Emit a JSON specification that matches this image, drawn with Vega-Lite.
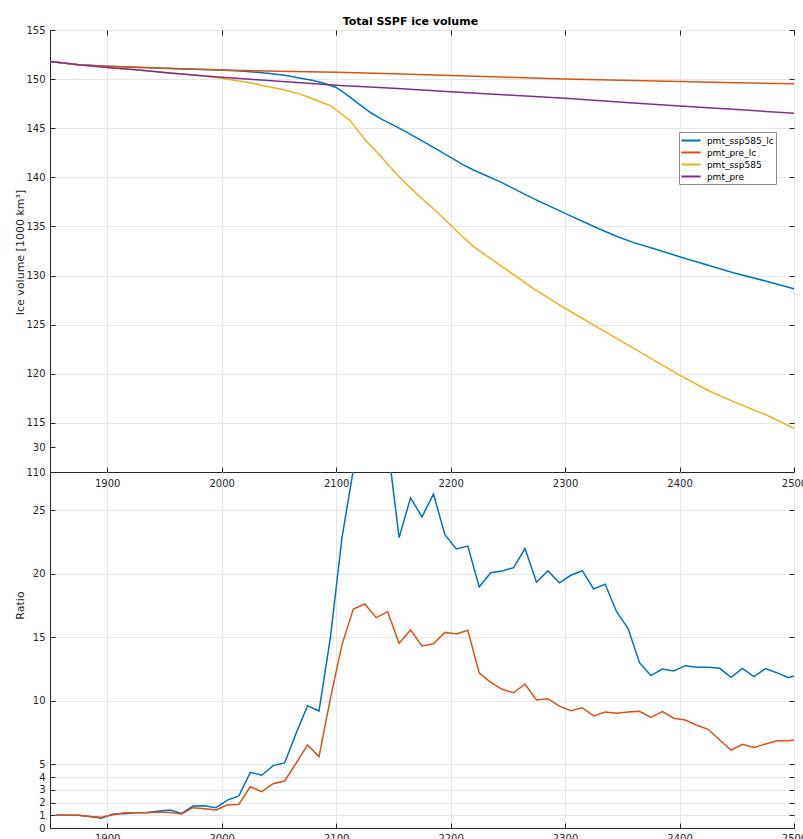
{
  "$schema": "https://vega.github.io/schema/vega-lite/v6.json",
  "autosize": {"type": "pad"},
  "padding": {"left": 13, "top": 15, "right": 0, "bottom": 0},
  "background": "white",
  "config": {
    "font": "DejaVu Sans",
    "view": {"stroke": "#262626", "strokeWidth": 1},
    "axis": {
      "domainColor": "#262626",
      "tickColor": "#262626",
      "labelColor": "#262626",
      "titleColor": "#262626",
      "gridColor": "#e6e6e6",
      "labelFontSize": 10,
      "titleFontSize": 11,
      "titleFontWeight": "normal",
      "tickSize": -5,
      "labelPadding": 10
    }
  },
  "title": {"text": "Total SSPF ice volume", "anchor": "middle", "fontSize": 11, "fontWeight": "bold", "color": "#000000", "offset": -2},
  "bounds": "flush",
  "spacing": 0,
  "resolve": {"scale": {"color": "independent"}, "legend": {"color": "independent"}},
  "datasets": {
    "volume": [
      {"year": 1850, "volume": 151.8, "series": "pmt_ssp585_lc"},
      {"year": 1875, "volume": 151.45, "series": "pmt_ssp585_lc"},
      {"year": 1900, "volume": 151.3, "series": "pmt_ssp585_lc"},
      {"year": 1925, "volume": 151.2, "series": "pmt_ssp585_lc"},
      {"year": 1950, "volume": 151.1, "series": "pmt_ssp585_lc"},
      {"year": 1975, "volume": 151.0, "series": "pmt_ssp585_lc"},
      {"year": 2000, "volume": 150.92, "series": "pmt_ssp585_lc"},
      {"year": 2020, "volume": 150.8, "series": "pmt_ssp585_lc"},
      {"year": 2040, "volume": 150.6, "series": "pmt_ssp585_lc"},
      {"year": 2055, "volume": 150.4, "series": "pmt_ssp585_lc"},
      {"year": 2068, "volume": 150.12, "series": "pmt_ssp585_lc"},
      {"year": 2080, "volume": 149.85, "series": "pmt_ssp585_lc"},
      {"year": 2090, "volume": 149.55, "series": "pmt_ssp585_lc"},
      {"year": 2100, "volume": 149.15, "series": "pmt_ssp585_lc"},
      {"year": 2110, "volume": 148.35, "series": "pmt_ssp585_lc"},
      {"year": 2120, "volume": 147.45, "series": "pmt_ssp585_lc"},
      {"year": 2130, "volume": 146.6, "series": "pmt_ssp585_lc"},
      {"year": 2140, "volume": 145.9, "series": "pmt_ssp585_lc"},
      {"year": 2147, "volume": 145.5, "series": "pmt_ssp585_lc"},
      {"year": 2160, "volume": 144.7, "series": "pmt_ssp585_lc"},
      {"year": 2170, "volume": 144.05, "series": "pmt_ssp585_lc"},
      {"year": 2185, "volume": 143.05, "series": "pmt_ssp585_lc"},
      {"year": 2200, "volume": 142.04, "series": "pmt_ssp585_lc"},
      {"year": 2210, "volume": 141.35, "series": "pmt_ssp585_lc"},
      {"year": 2220, "volume": 140.75, "series": "pmt_ssp585_lc"},
      {"year": 2243, "volume": 139.56, "series": "pmt_ssp585_lc"},
      {"year": 2272, "volume": 137.86, "series": "pmt_ssp585_lc"},
      {"year": 2300, "volume": 136.33, "series": "pmt_ssp585_lc"},
      {"year": 2330, "volume": 134.74, "series": "pmt_ssp585_lc"},
      {"year": 2345, "volume": 134.0, "series": "pmt_ssp585_lc"},
      {"year": 2360, "volume": 133.35, "series": "pmt_ssp585_lc"},
      {"year": 2380, "volume": 132.65, "series": "pmt_ssp585_lc"},
      {"year": 2400, "volume": 131.92, "series": "pmt_ssp585_lc"},
      {"year": 2425, "volume": 131.05, "series": "pmt_ssp585_lc"},
      {"year": 2447, "volume": 130.29, "series": "pmt_ssp585_lc"},
      {"year": 2475, "volume": 129.45, "series": "pmt_ssp585_lc"},
      {"year": 2500, "volume": 128.66, "series": "pmt_ssp585_lc"},

      {"year": 1850, "volume": 151.8, "series": "pmt_pre_lc"},
      {"year": 1875, "volume": 151.45, "series": "pmt_pre_lc"},
      {"year": 1900, "volume": 151.3, "series": "pmt_pre_lc"},
      {"year": 1950, "volume": 151.1, "series": "pmt_pre_lc"},
      {"year": 2000, "volume": 150.93, "series": "pmt_pre_lc"},
      {"year": 2050, "volume": 150.8, "series": "pmt_pre_lc"},
      {"year": 2100, "volume": 150.7, "series": "pmt_pre_lc"},
      {"year": 2150, "volume": 150.55, "series": "pmt_pre_lc"},
      {"year": 2200, "volume": 150.38, "series": "pmt_pre_lc"},
      {"year": 2250, "volume": 150.2, "series": "pmt_pre_lc"},
      {"year": 2300, "volume": 150.02, "series": "pmt_pre_lc"},
      {"year": 2350, "volume": 149.88, "series": "pmt_pre_lc"},
      {"year": 2400, "volume": 149.76, "series": "pmt_pre_lc"},
      {"year": 2450, "volume": 149.63, "series": "pmt_pre_lc"},
      {"year": 2500, "volume": 149.52, "series": "pmt_pre_lc"},

      {"year": 1850, "volume": 151.8, "series": "pmt_ssp585"},
      {"year": 1875, "volume": 151.45, "series": "pmt_ssp585"},
      {"year": 1900, "volume": 151.18, "series": "pmt_ssp585"},
      {"year": 1925, "volume": 150.95, "series": "pmt_ssp585"},
      {"year": 1950, "volume": 150.68, "series": "pmt_ssp585"},
      {"year": 1975, "volume": 150.42, "series": "pmt_ssp585"},
      {"year": 2000, "volume": 150.08, "series": "pmt_ssp585"},
      {"year": 2012, "volume": 149.85, "series": "pmt_ssp585"},
      {"year": 2025, "volume": 149.62, "series": "pmt_ssp585"},
      {"year": 2040, "volume": 149.25, "series": "pmt_ssp585"},
      {"year": 2054, "volume": 148.92, "series": "pmt_ssp585"},
      {"year": 2068, "volume": 148.5, "series": "pmt_ssp585"},
      {"year": 2076, "volume": 148.15, "series": "pmt_ssp585"},
      {"year": 2086, "volume": 147.7, "series": "pmt_ssp585"},
      {"year": 2095, "volume": 147.3, "series": "pmt_ssp585"},
      {"year": 2103, "volume": 146.6, "series": "pmt_ssp585"},
      {"year": 2112, "volume": 145.8, "series": "pmt_ssp585"},
      {"year": 2120, "volume": 144.6, "series": "pmt_ssp585"},
      {"year": 2127, "volume": 143.6, "series": "pmt_ssp585"},
      {"year": 2137, "volume": 142.4, "series": "pmt_ssp585"},
      {"year": 2147, "volume": 141.08, "series": "pmt_ssp585"},
      {"year": 2158, "volume": 139.7, "series": "pmt_ssp585"},
      {"year": 2170, "volume": 138.37, "series": "pmt_ssp585"},
      {"year": 2185, "volume": 136.8, "series": "pmt_ssp585"},
      {"year": 2200, "volume": 135.15, "series": "pmt_ssp585"},
      {"year": 2210, "volume": 134.0, "series": "pmt_ssp585"},
      {"year": 2220, "volume": 132.94, "series": "pmt_ssp585"},
      {"year": 2243, "volume": 131.07, "series": "pmt_ssp585"},
      {"year": 2272, "volume": 128.7, "series": "pmt_ssp585"},
      {"year": 2300, "volume": 126.67, "series": "pmt_ssp585"},
      {"year": 2330, "volume": 124.63, "series": "pmt_ssp585"},
      {"year": 2360, "volume": 122.59, "series": "pmt_ssp585"},
      {"year": 2400, "volume": 119.87, "series": "pmt_ssp585"},
      {"year": 2425, "volume": 118.3, "series": "pmt_ssp585"},
      {"year": 2447, "volume": 117.16, "series": "pmt_ssp585"},
      {"year": 2475, "volume": 115.85, "series": "pmt_ssp585"},
      {"year": 2500, "volume": 114.45, "series": "pmt_ssp585"},

      {"year": 1850, "volume": 151.8, "series": "pmt_pre"},
      {"year": 1875, "volume": 151.45, "series": "pmt_pre"},
      {"year": 1900, "volume": 151.18, "series": "pmt_pre"},
      {"year": 1925, "volume": 150.95, "series": "pmt_pre"},
      {"year": 1950, "volume": 150.68, "series": "pmt_pre"},
      {"year": 1975, "volume": 150.42, "series": "pmt_pre"},
      {"year": 2000, "volume": 150.18, "series": "pmt_pre"},
      {"year": 2025, "volume": 149.98, "series": "pmt_pre"},
      {"year": 2050, "volume": 149.78, "series": "pmt_pre"},
      {"year": 2075, "volume": 149.58, "series": "pmt_pre"},
      {"year": 2100, "volume": 149.38, "series": "pmt_pre"},
      {"year": 2150, "volume": 149.06, "series": "pmt_pre"},
      {"year": 2200, "volume": 148.72, "series": "pmt_pre"},
      {"year": 2250, "volume": 148.38, "series": "pmt_pre"},
      {"year": 2300, "volume": 148.04, "series": "pmt_pre"},
      {"year": 2350, "volume": 147.65, "series": "pmt_pre"},
      {"year": 2400, "volume": 147.26, "series": "pmt_pre"},
      {"year": 2450, "volume": 146.9, "series": "pmt_pre"},
      {"year": 2500, "volume": 146.52, "series": "pmt_pre"}
    ],
    "ratio": [
      {"year": 1855, "ratio": 1.02, "series": "ratio_ssp585_lc"},
      {"year": 1865, "ratio": 1.0, "series": "ratio_ssp585_lc"},
      {"year": 1875, "ratio": 1.0, "series": "ratio_ssp585_lc"},
      {"year": 1885, "ratio": 0.9, "series": "ratio_ssp585_lc"},
      {"year": 1895, "ratio": 0.76, "series": "ratio_ssp585_lc"},
      {"year": 1905, "ratio": 1.1, "series": "ratio_ssp585_lc"},
      {"year": 1915, "ratio": 1.12, "series": "ratio_ssp585_lc"},
      {"year": 1925, "ratio": 1.2, "series": "ratio_ssp585_lc"},
      {"year": 1935, "ratio": 1.22, "series": "ratio_ssp585_lc"},
      {"year": 1945, "ratio": 1.34, "series": "ratio_ssp585_lc"},
      {"year": 1955, "ratio": 1.42, "series": "ratio_ssp585_lc"},
      {"year": 1965, "ratio": 1.15, "series": "ratio_ssp585_lc"},
      {"year": 1975, "ratio": 1.73, "series": "ratio_ssp585_lc"},
      {"year": 1985, "ratio": 1.76, "series": "ratio_ssp585_lc"},
      {"year": 1995, "ratio": 1.6, "series": "ratio_ssp585_lc"},
      {"year": 2005, "ratio": 2.2, "series": "ratio_ssp585_lc"},
      {"year": 2015, "ratio": 2.52, "series": "ratio_ssp585_lc"},
      {"year": 2025, "ratio": 4.38, "series": "ratio_ssp585_lc"},
      {"year": 2035, "ratio": 4.15, "series": "ratio_ssp585_lc"},
      {"year": 2045, "ratio": 4.91, "series": "ratio_ssp585_lc"},
      {"year": 2055, "ratio": 5.12, "series": "ratio_ssp585_lc"},
      {"year": 2065, "ratio": 7.45, "series": "ratio_ssp585_lc"},
      {"year": 2075, "ratio": 9.63, "series": "ratio_ssp585_lc"},
      {"year": 2085, "ratio": 9.21, "series": "ratio_ssp585_lc"},
      {"year": 2095, "ratio": 15.0, "series": "ratio_ssp585_lc"},
      {"year": 2105, "ratio": 22.8, "series": "ratio_ssp585_lc"},
      {"year": 2115, "ratio": 28.2, "series": "ratio_ssp585_lc"},
      {"year": 2125, "ratio": 31.5, "series": "ratio_ssp585_lc"},
      {"year": 2135, "ratio": 32.5, "series": "ratio_ssp585_lc"},
      {"year": 2145, "ratio": 30.2, "series": "ratio_ssp585_lc"},
      {"year": 2155, "ratio": 22.86, "series": "ratio_ssp585_lc"},
      {"year": 2165, "ratio": 26.0, "series": "ratio_ssp585_lc"},
      {"year": 2175, "ratio": 24.5, "series": "ratio_ssp585_lc"},
      {"year": 2185, "ratio": 26.3, "series": "ratio_ssp585_lc"},
      {"year": 2195, "ratio": 23.1, "series": "ratio_ssp585_lc"},
      {"year": 2205, "ratio": 21.97, "series": "ratio_ssp585_lc"},
      {"year": 2215, "ratio": 22.2, "series": "ratio_ssp585_lc"},
      {"year": 2225, "ratio": 18.98, "series": "ratio_ssp585_lc"},
      {"year": 2235, "ratio": 20.1, "series": "ratio_ssp585_lc"},
      {"year": 2245, "ratio": 20.24, "series": "ratio_ssp585_lc"},
      {"year": 2255, "ratio": 20.5, "series": "ratio_ssp585_lc"},
      {"year": 2265, "ratio": 22.0, "series": "ratio_ssp585_lc"},
      {"year": 2275, "ratio": 19.35, "series": "ratio_ssp585_lc"},
      {"year": 2285, "ratio": 20.24, "series": "ratio_ssp585_lc"},
      {"year": 2295, "ratio": 19.3, "series": "ratio_ssp585_lc"},
      {"year": 2305, "ratio": 19.9, "series": "ratio_ssp585_lc"},
      {"year": 2315, "ratio": 20.26, "series": "ratio_ssp585_lc"},
      {"year": 2325, "ratio": 18.82, "series": "ratio_ssp585_lc"},
      {"year": 2335, "ratio": 19.2, "series": "ratio_ssp585_lc"},
      {"year": 2345, "ratio": 17.03, "series": "ratio_ssp585_lc"},
      {"year": 2355, "ratio": 15.72, "series": "ratio_ssp585_lc"},
      {"year": 2365, "ratio": 13.02, "series": "ratio_ssp585_lc"},
      {"year": 2375, "ratio": 12.0, "series": "ratio_ssp585_lc"},
      {"year": 2385, "ratio": 12.52, "series": "ratio_ssp585_lc"},
      {"year": 2395, "ratio": 12.36, "series": "ratio_ssp585_lc"},
      {"year": 2405, "ratio": 12.78, "series": "ratio_ssp585_lc"},
      {"year": 2415, "ratio": 12.65, "series": "ratio_ssp585_lc"},
      {"year": 2425, "ratio": 12.65, "series": "ratio_ssp585_lc"},
      {"year": 2435, "ratio": 12.57, "series": "ratio_ssp585_lc"},
      {"year": 2445, "ratio": 11.87, "series": "ratio_ssp585_lc"},
      {"year": 2455, "ratio": 12.57, "series": "ratio_ssp585_lc"},
      {"year": 2465, "ratio": 11.92, "series": "ratio_ssp585_lc"},
      {"year": 2475, "ratio": 12.55, "series": "ratio_ssp585_lc"},
      {"year": 2485, "ratio": 12.23, "series": "ratio_ssp585_lc"},
      {"year": 2495, "ratio": 11.84, "series": "ratio_ssp585_lc"},
      {"year": 2500, "ratio": 11.97, "series": "ratio_ssp585_lc"},

      {"year": 1855, "ratio": 1.0, "series": "ratio_pre_lc"},
      {"year": 1865, "ratio": 1.0, "series": "ratio_pre_lc"},
      {"year": 1875, "ratio": 1.0, "series": "ratio_pre_lc"},
      {"year": 1885, "ratio": 0.9, "series": "ratio_pre_lc"},
      {"year": 1895, "ratio": 0.85, "series": "ratio_pre_lc"},
      {"year": 1905, "ratio": 1.05, "series": "ratio_pre_lc"},
      {"year": 1915, "ratio": 1.2, "series": "ratio_pre_lc"},
      {"year": 1925, "ratio": 1.2, "series": "ratio_pre_lc"},
      {"year": 1935, "ratio": 1.2, "series": "ratio_pre_lc"},
      {"year": 1945, "ratio": 1.25, "series": "ratio_pre_lc"},
      {"year": 1955, "ratio": 1.22, "series": "ratio_pre_lc"},
      {"year": 1965, "ratio": 1.1, "series": "ratio_pre_lc"},
      {"year": 1975, "ratio": 1.6, "series": "ratio_pre_lc"},
      {"year": 1985, "ratio": 1.52, "series": "ratio_pre_lc"},
      {"year": 1995, "ratio": 1.42, "series": "ratio_pre_lc"},
      {"year": 2005, "ratio": 1.81, "series": "ratio_pre_lc"},
      {"year": 2015, "ratio": 1.86, "series": "ratio_pre_lc"},
      {"year": 2025, "ratio": 3.25, "series": "ratio_pre_lc"},
      {"year": 2035, "ratio": 2.86, "series": "ratio_pre_lc"},
      {"year": 2045, "ratio": 3.49, "series": "ratio_pre_lc"},
      {"year": 2055, "ratio": 3.7, "series": "ratio_pre_lc"},
      {"year": 2065, "ratio": 5.1, "series": "ratio_pre_lc"},
      {"year": 2075, "ratio": 6.54, "series": "ratio_pre_lc"},
      {"year": 2085, "ratio": 5.62, "series": "ratio_pre_lc"},
      {"year": 2095, "ratio": 10.2, "series": "ratio_pre_lc"},
      {"year": 2105, "ratio": 14.4, "series": "ratio_pre_lc"},
      {"year": 2115, "ratio": 17.24, "series": "ratio_pre_lc"},
      {"year": 2125, "ratio": 17.64, "series": "ratio_pre_lc"},
      {"year": 2135, "ratio": 16.56, "series": "ratio_pre_lc"},
      {"year": 2145, "ratio": 17.03, "series": "ratio_pre_lc"},
      {"year": 2155, "ratio": 14.54, "series": "ratio_pre_lc"},
      {"year": 2165, "ratio": 15.59, "series": "ratio_pre_lc"},
      {"year": 2175, "ratio": 14.33, "series": "ratio_pre_lc"},
      {"year": 2185, "ratio": 14.51, "series": "ratio_pre_lc"},
      {"year": 2195, "ratio": 15.4, "series": "ratio_pre_lc"},
      {"year": 2205, "ratio": 15.28, "series": "ratio_pre_lc"},
      {"year": 2215, "ratio": 15.57, "series": "ratio_pre_lc"},
      {"year": 2225, "ratio": 12.2, "series": "ratio_pre_lc"},
      {"year": 2235, "ratio": 11.47, "series": "ratio_pre_lc"},
      {"year": 2245, "ratio": 10.92, "series": "ratio_pre_lc"},
      {"year": 2255, "ratio": 10.65, "series": "ratio_pre_lc"},
      {"year": 2265, "ratio": 11.34, "series": "ratio_pre_lc"},
      {"year": 2275, "ratio": 10.08, "series": "ratio_pre_lc"},
      {"year": 2285, "ratio": 10.18, "series": "ratio_pre_lc"},
      {"year": 2295, "ratio": 9.6, "series": "ratio_pre_lc"},
      {"year": 2305, "ratio": 9.24, "series": "ratio_pre_lc"},
      {"year": 2315, "ratio": 9.47, "series": "ratio_pre_lc"},
      {"year": 2325, "ratio": 8.82, "series": "ratio_pre_lc"},
      {"year": 2335, "ratio": 9.13, "series": "ratio_pre_lc"},
      {"year": 2345, "ratio": 9.03, "series": "ratio_pre_lc"},
      {"year": 2355, "ratio": 9.13, "series": "ratio_pre_lc"},
      {"year": 2365, "ratio": 9.19, "series": "ratio_pre_lc"},
      {"year": 2375, "ratio": 8.71, "series": "ratio_pre_lc"},
      {"year": 2385, "ratio": 9.16, "series": "ratio_pre_lc"},
      {"year": 2395, "ratio": 8.64, "series": "ratio_pre_lc"},
      {"year": 2405, "ratio": 8.5, "series": "ratio_pre_lc"},
      {"year": 2415, "ratio": 8.09, "series": "ratio_pre_lc"},
      {"year": 2425, "ratio": 7.77, "series": "ratio_pre_lc"},
      {"year": 2435, "ratio": 6.93, "series": "ratio_pre_lc"},
      {"year": 2445, "ratio": 6.14, "series": "ratio_pre_lc"},
      {"year": 2455, "ratio": 6.59, "series": "ratio_pre_lc"},
      {"year": 2465, "ratio": 6.35, "series": "ratio_pre_lc"},
      {"year": 2475, "ratio": 6.61, "series": "ratio_pre_lc"},
      {"year": 2485, "ratio": 6.87, "series": "ratio_pre_lc"},
      {"year": 2495, "ratio": 6.87, "series": "ratio_pre_lc"},
      {"year": 2500, "ratio": 6.93, "series": "ratio_pre_lc"}
    ]
  },
  "vconcat": [
    {
      "width": 744,
      "height": 442,
      "data": {"name": "volume"},
      "resolve": {"axis": {"x": "independent", "y": "independent"}},
      "layer": [
        {
          "mark": {"type": "line", "strokeWidth": 1.5, "clip": true},
          "encoding": {
            "x": {
              "field": "year", "type": "quantitative",
              "scale": {"domain": [1850, 2500], "nice": false, "zero": false},
              "axis": {"title": null, "values": [1900, 2000, 2100, 2200, 2300, 2400, 2500], "format": "d", "labelFlush": false, "labelPadding": 11}
            },
            "y": {
              "field": "volume", "type": "quantitative",
              "scale": {"domain": [110, 155], "nice": false, "zero": false},
              "axis": {
                "title": "Ice volume [1000 km³]",
                "titleX": -25, "titleY": 222,
                "values": [110, 112.54, 115, 120, 125, 130, 135, 140, 145, 150, 155],
                "format": "d",
                "labelExpr": "datum.value > 112 && datum.value < 113 ? '30' : datum.label",
                "gridOpacity": {"condition": {"test": "datum.value > 112 && datum.value < 113", "value": 0}, "value": 1}
              }
            },
            "color": {
              "field": "series", "type": "nominal",
              "scale": {"domain": ["pmt_ssp585_lc", "pmt_pre_lc", "pmt_ssp585", "pmt_pre"], "range": ["#0072BD", "#D95319", "#EDB120", "#7E2F8E"]},
              "legend": {
                "title": null, "orient": "none", "legendX": 629, "legendY": 102,
                "fillColor": "white", "strokeColor": "#8c8c8c", "padding": 2,
                "symbolType": "M-1.75,0H1.75", "symbolSize": 121, "symbolStrokeWidth": 2, "symbolOffset": 3.5,
                "labelFontSize": 9, "labelColor": "#000000", "labelOffset": 9.4, "rowPadding": 0
              }
            }
          }
        },
        {
          "mark": {"type": "line", "strokeOpacity": 0, "clip": true},
          "encoding": {
            "x": {
              "field": "year", "type": "quantitative",
              "axis": {"orient": "top", "title": null, "values": [1900, 2000, 2100, 2200, 2300, 2400, 2500], "labels": false, "grid": false, "domain": false}
            },
            "y": {
              "field": "volume", "type": "quantitative",
              "axis": {"orient": "right", "title": null, "values": [110, 115, 120, 125, 130, 135, 140, 145, 150, 155], "labels": false, "grid": false, "domain": false}
            },
            "detail": {"field": "series", "type": "nominal"}
          }
        }
      ]
    },
    {
      "width": 744,
      "height": 356,
      "data": {"name": "ratio"},
      "resolve": {"axis": {"y": "independent"}},
      "layer": [
        {
          "mark": {"type": "line", "strokeWidth": 1.5, "clip": true},
          "encoding": {
            "x": {
              "field": "year", "type": "quantitative",
              "scale": {"domain": [1850, 2500], "nice": false, "zero": false},
              "axis": {"title": null, "values": [1900, 2000, 2100, 2200, 2300, 2400, 2500], "format": "d", "labelFlush": false, "labelPadding": 10}
            },
            "y": {
              "field": "ratio", "type": "quantitative",
              "scale": {"domain": [0, 28.03], "nice": false},
              "axis": {"title": "Ratio", "titleX": -25, "titleY": 133, "values": [0, 1, 2, 3, 4, 5, 10, 15, 20, 25], "format": "d"}
            },
            "color": {
              "field": "series", "type": "nominal",
              "scale": {"domain": ["ratio_ssp585_lc", "ratio_pre_lc"], "range": ["#0072BD", "#D95319"]},
              "legend": null
            }
          }
        },
        {
          "mark": {"type": "line", "strokeOpacity": 0, "clip": true},
          "encoding": {
            "x": {"field": "year", "type": "quantitative"},
            "y": {
              "field": "ratio", "type": "quantitative",
              "axis": {"orient": "right", "title": null, "values": [1, 2, 3, 4, 5, 10, 15, 20, 25], "labels": false, "grid": false, "domain": false}
            },
            "detail": {"field": "series", "type": "nominal"}
          }
        }
      ]
    }
  ]
}
